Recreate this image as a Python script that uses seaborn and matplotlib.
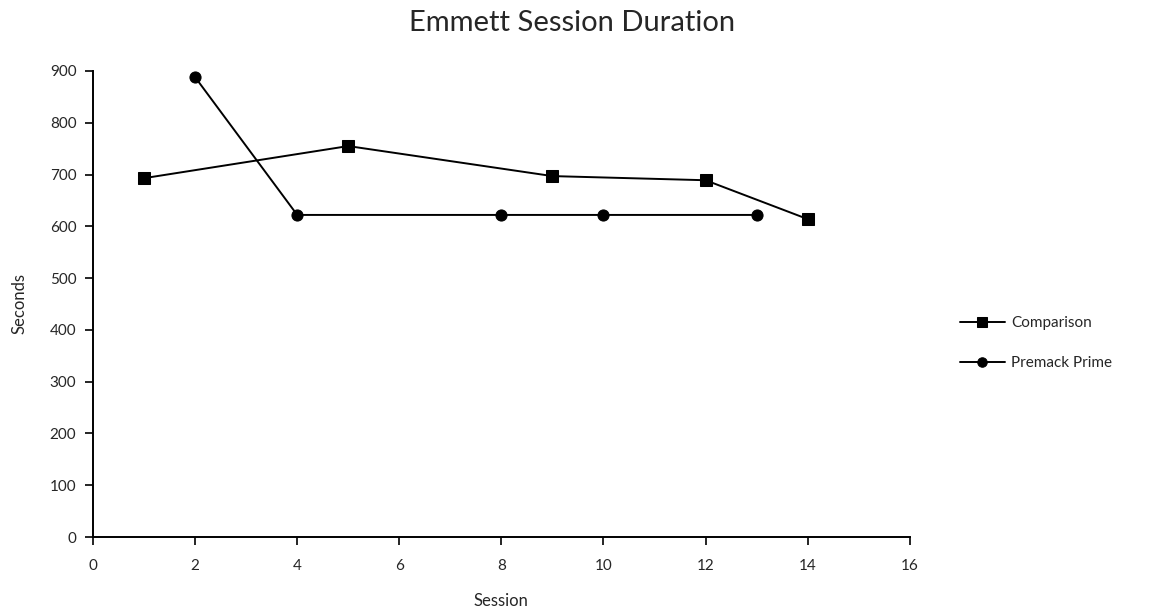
import matplotlib
matplotlib.use("Agg")
import matplotlib.pyplot as plt
import seaborn as sns
import pandas as pd

# Session durations (seconds) for each condition
comparison_sessions = [1, 5, 9, 12, 14]
comparison_seconds = [693, 755, 697, 689, 614]
premack_sessions = [2, 4, 8, 10, 13]
premack_seconds = [888, 622, 622, 622, 622]
series_names = ["Comparison", "Premack Prime"]

df = pd.concat([
    pd.DataFrame({"Session": comparison_sessions, "Seconds": comparison_seconds,
                  "Condition": series_names[0]}),
    pd.DataFrame({"Session": premack_sessions, "Seconds": premack_seconds,
                  "Condition": series_names[1]}),
], ignore_index=True)

sns.set_style("white")
plt.rcParams["font.family"] = ["Lato", "DejaVu Sans"]

fig = plt.figure(figsize=(11.53, 6.14), dpi=100)
ax = fig.add_axes([0.0807, 0.1254, 0.7083, 0.759])

sns.lineplot(data=df, x="Session", y="Seconds", hue="Condition", style="Condition",
             palette=["black", "black"], markers=["s", "o"], dashes=False,
             markersize=8, linewidth=1.4, markeredgecolor="black", ax=ax,
             legend=True)

ax.set_xlim(0, 16)
ax.set_ylim(0, 900)
ax.set_xticks(range(0, 17, 2))
ax.set_yticks(range(0, 901, 100))
ax.tick_params(axis="both", labelsize=11, length=6, width=1.2, color="black",
               direction="out", bottom=True, left=True)
ax.tick_params(axis="x", pad=10)
ax.tick_params(axis="y", pad=6)
for side in ["top", "right"]:
    ax.spines[side].set_visible(False)
for side in ["left", "bottom"]:
    ax.spines[side].set_color("black")
    ax.spines[side].set_linewidth(1.4)

ax.set_xlabel("Session", fontsize=12, labelpad=14)
ax.set_ylabel("Seconds", fontsize=12, labelpad=16)
fig.text(0.496, 0.962, "Emmett Session Duration", fontsize=21, ha="center", va="center")

leg = ax.legend(title=None, frameon=False, fontsize=11, loc="center left",
                bbox_to_anchor=(1.061, 0.416), borderaxespad=0, borderpad=0,
                handlelength=3.0, labelspacing=1.7, handletextpad=0.4,
                markerscale=0.85)

fig.savefig("out.png", dpi=100)
